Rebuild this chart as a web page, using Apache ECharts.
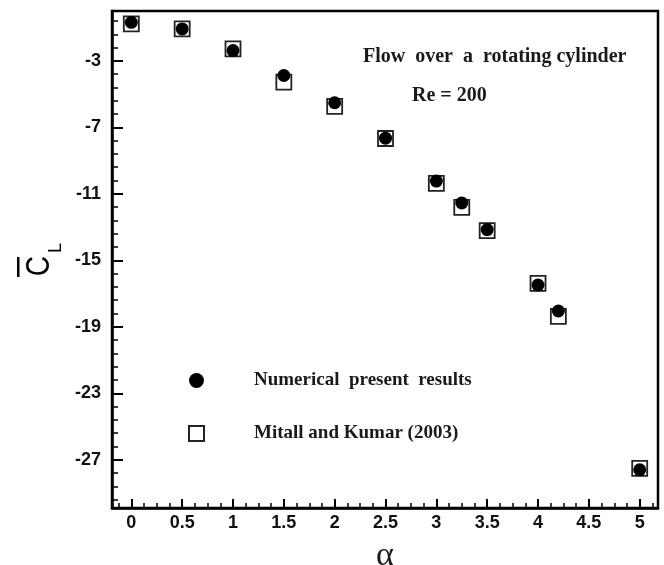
<!DOCTYPE html>
<html>
<head>
<meta charset="utf-8">
<script src="https://cdn.jsdelivr.net/npm/echarts@6/dist/echarts.min.js"></script>
<style>
html,body{margin:0;padding:0;background:#fff;}
#chart{width:664px;height:565px;}
</style>
</head>
<body>
<div id="chart"></div>
<script>
// ---- data ----
const alpha = [0, 0.5, 1, 1.5, 2, 2.5, 3, 3.25, 3.5, 4, 4.2, 5];
const presentCL = [-0.68, -1.08, -2.38, -3.88, -5.52, -7.65, -10.23, -11.55, -13.15, -16.49, -18.05, -27.6];
const mittalCL = [-0.78, -1.07, -2.28, -4.28, -5.74, -7.67, -10.37, -11.81, -13.21, -16.39, -18.37, -27.52];
const xTickLabels = [0, 0.5, 1, 1.5, 2, 2.5, 3, 3.5, 4, 4.5, 5];
const yTickLabels = [-3, -7, -11, -15, -19, -23, -27];
const seriesNames = ['Numerical  present  results', 'Mitall and Kumar (2003)'];

const X_MIN = -0.19, X_MAX = 5.18, Y_MIN = -29.9, Y_MAX = 0;
// minor tick positions (axis decoration only)
const xMinor = [];
for (let k = -1; k <= 41; k++) { const v = k * 0.125; if (v >= X_MIN && v <= X_MAX && k % 4 !== 0) xMinor.push(+v.toFixed(3)); }
const yMinor = [];
for (let k = -4; k <= 34; k++) { const v = -3 - k * 0.8; if (v >= Y_MIN && v <= Y_MAX && k % 5 !== 0) yMinor.push(+v.toFixed(2)); }

const chart = echarts.init(document.getElementById('chart'), null, {renderer: 'canvas'});
const labelFont = {fontFamily: 'Liberation Sans, Arial, sans-serif', fontWeight: 'bold', fontSize: 18, color: '#111'};
const serifFam = 'Liberation Serif, Times New Roman, serif';
const gridBox = {left: 112, top: 11, right: 6, bottom: 57, containLabel: false, outerBoundsMode: 'none'};

chart.setOption({
  animation: false,
  backgroundColor: '#fff',
  grid: [
    Object.assign({show: true, borderColor: '#000', borderWidth: 2.5, backgroundColor: 'transparent'}, gridBox),
    Object.assign({show: false}, gridBox)
  ],
  legend: {
    orient: 'vertical', left: 188, top: 370, padding: 0, itemGap: 32,
    itemWidth: 15, itemHeight: 15,
    data: seriesNames,
    textStyle: {fontFamily: serifFam, fontWeight: 'bold', color: '#1a1a1a', fontSize: 19, lineHeight: 21, padding: [0, 0, 0, 45]},
    selectedMode: false
  },
  xAxis: [{
    gridIndex: 0, type: 'value', min: X_MIN, max: X_MAX, position: 'bottom',
    splitLine: {show: false},
    axisLine: {show: true, onZero: false, lineStyle: {color: '#000', width: 2.5}},
    axisTick: {show: true, inside: true, length: 9, lineStyle: {color: '#000', width: 2}, customValues: xTickLabels},
    axisLabel: Object.assign({}, labelFont, {margin: 6, customValues: xTickLabels, formatter: v => String(v)}),
    name: 'α', nameLocation: 'middle', nameGap: 31,
    nameTextStyle: {fontFamily: serifFam, fontSize: 34, color: '#1a1a1a'}
  }, {
    gridIndex: 1, type: 'value', min: X_MIN, max: X_MAX, position: 'bottom',
    splitLine: {show: false}, axisLine: {show: false, onZero: false},
    axisTick: {show: true, inside: true, length: 5, lineStyle: {color: '#000', width: 1.5}, customValues: xMinor},
    axisLabel: {show: false}
  }],
  yAxis: [{
    gridIndex: 0, type: 'value', min: Y_MIN, max: Y_MAX, position: 'left',
    splitLine: {show: false},
    axisLine: {show: true, onZero: false, lineStyle: {color: '#000', width: 2.5}},
    axisTick: {show: true, inside: true, length: 11, lineStyle: {color: '#000', width: 2}, customValues: yTickLabels},
    axisLabel: Object.assign({}, labelFont, {margin: 11, customValues: yTickLabels, formatter: v => String(v)})
  }, {
    gridIndex: 1, type: 'value', min: Y_MIN, max: Y_MAX, position: 'left',
    splitLine: {show: false}, axisLine: {show: false, onZero: false},
    axisTick: {show: true, inside: true, length: 6, lineStyle: {color: '#000', width: 1.5}, customValues: yMinor},
    axisLabel: {show: false}
  }],
  series: [{
    name: seriesNames[1], type: 'scatter', xAxisIndex: 0, yAxisIndex: 0,
    symbol: 'rect', symbolSize: 15, z: 2,
    itemStyle: {color: '#fff', borderColor: '#222', borderWidth: 1.8, opacity: 1},
    data: alpha.map((a, i) => [a, mittalCL[i]])
  }, {
    name: seriesNames[0], type: 'scatter', xAxisIndex: 0, yAxisIndex: 0,
    symbol: 'circle', symbolSize: 13, z: 3,
    itemStyle: {color: '#000', opacity: 1},
    data: alpha.map((a, i) => [a, presentCL[i]])
  }],
  graphic: [
    {type: 'text', left: 363, top: 47, style: {text: 'Flow  over  a  rotating cylinder', fontSize: 20, fill: '#1a1a1a', fontFamily: serifFam, fontWeight: 'bold'}},
    {type: 'text', left: 412, top: 86, style: {text: 'Re = 200', fontSize: 20, fill: '#1a1a1a', fontFamily: serifFam, fontWeight: 'bold'}},
    // y-axis title: C-bar with subscript L, rotated
    {type: 'rect', shape: {x: 17, y: 257, width: 2.5, height: 20}, style: {fill: '#000'}},
    {type: 'text', x: 40, y: 266, rotation: Math.PI / 2, scaleX: 0.85,
      style: {text: 'C', fontSize: 33, fontFamily: 'Liberation Sans, Arial, sans-serif', fill: '#000', align: 'center', verticalAlign: 'middle'}},
    {type: 'text', x: 56, y: 248, rotation: Math.PI / 2,
      style: {text: 'L', fontSize: 18, fontFamily: 'Liberation Sans, Arial, sans-serif', fill: '#000', align: 'center', verticalAlign: 'middle'}}
  ]
});
</script>
</body>
</html>
